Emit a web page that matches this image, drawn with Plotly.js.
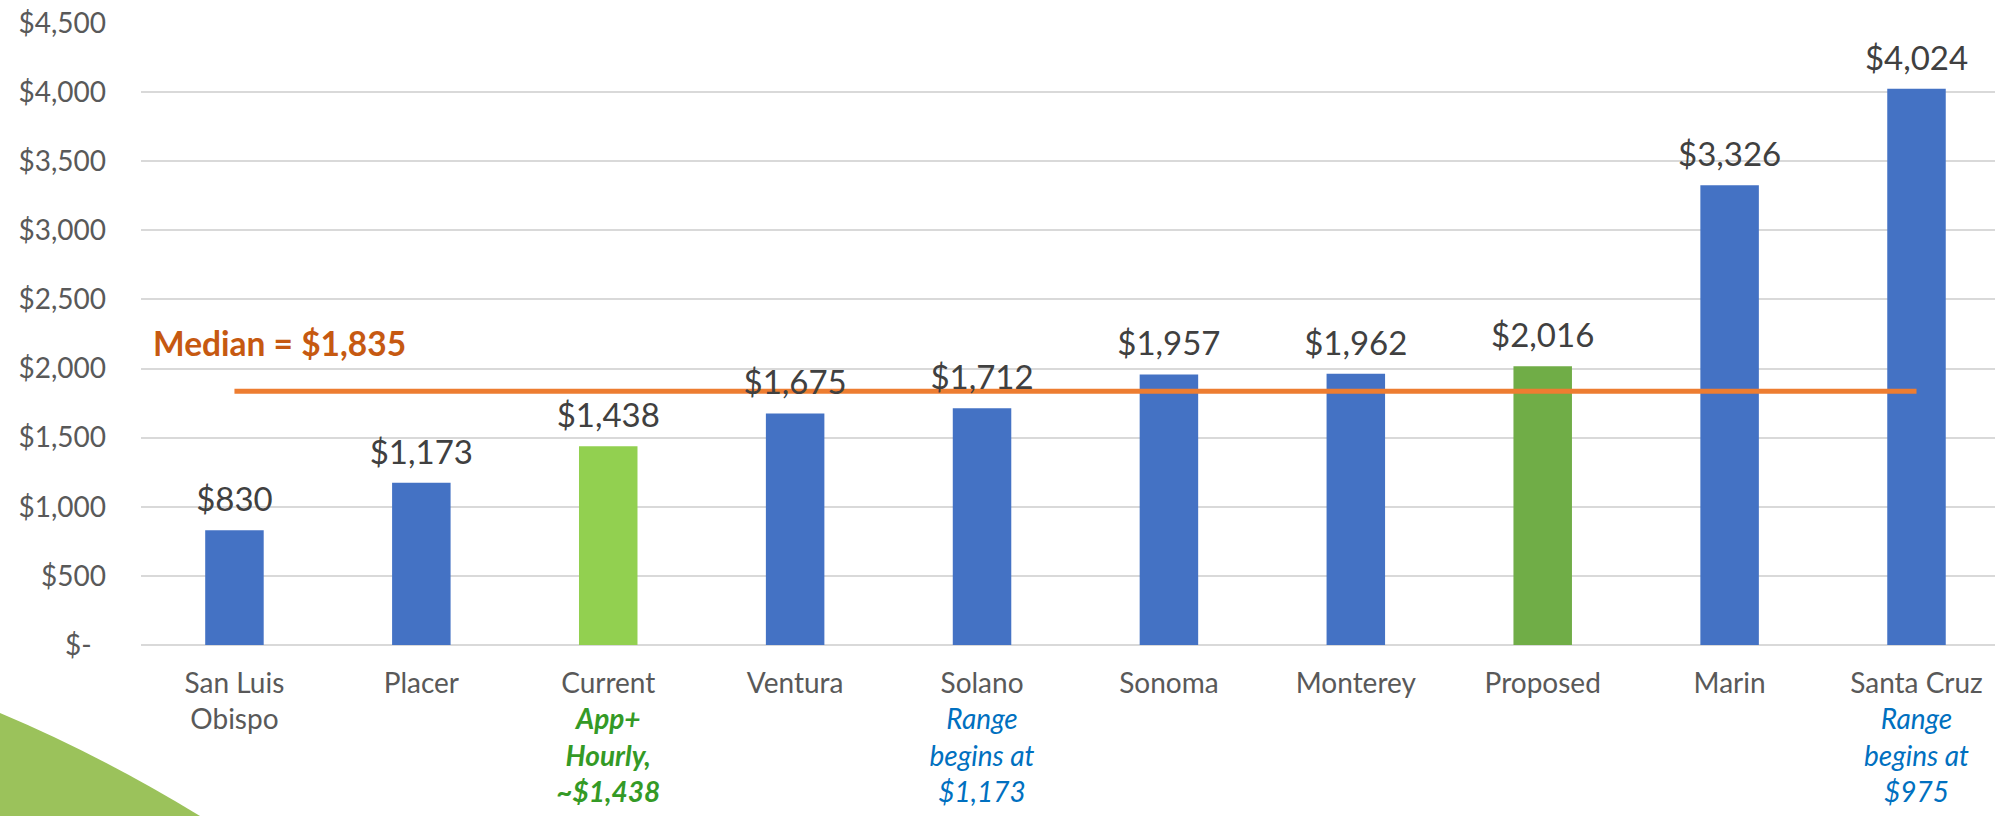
<!DOCTYPE html>
<html>
<head>
<meta charset="utf-8">
<script src="https://cdn.plot.ly/plotly-3.0.1.min.js"></script>
<style>
  html, body { margin: 0; padding: 0; background: #ffffff; }
  #chart { width: 1995px; height: 816px; }
</style>
</head>
<body>
<div id="chart"></div>
<script>
// ---- data ----
const categories = ["San Luis Obispo", "Placer", "Current", "Ventura", "Solano", "Sonoma", "Monterey", "Proposed", "Marin", "Santa Cruz"];
const categoryLines = ["San Luis<br>Obispo", "Placer", "Current", "Ventura", "Solano", "Sonoma", "Monterey", "Proposed", "Marin", "Santa Cruz"];
const notes = ["", "", "App+<br>Hourly,<br>~$1,438", "", "Range<br>begins at<br>$1,173", "", "", "", "", "Range<br>begins at<br>$975"];
const noteKinds = ["", "", "current", "", "range", "", "", "", "", "range"];
const values = [830, 1173, 1438, 1675, 1712, 1957, 1962, 2016, 3326, 4024];
const barKinds = ["county", "county", "current", "county", "county", "county", "county", "proposed", "county", "county"];
const valueLabels = ["$830", "$1,173", "$1,438", "$1,675", "$1,712", "$1,957", "$1,962", "$2,016", "$3,326", "$4,024"];
const median = 1835;
const medianLabel = "Median = $1,835";
const yTickVals = [0, 500, 1000, 1500, 2000, 2500, 3000, 3500, 4000, 4500];
const yTickText = ["$-\u00A0\u00A0", "$500", "$1,000", "$1,500", "$2,000", "$2,500", "$3,000", "$3,500", "$4,000", "$4,500"];

// ---- styles ----
const kindColor = { county: "#4472C4", current: "#92D050", proposed: "#70AD47" };
const noteStyle = {
  current: s => '<span style="color:#349A26"><b><i>' + s + '</i></b></span>',
  range: s => '<span style="color:#0070C0"><i>' + s + '</i></span>'
};
const FONT = "Lato, 'Open Sans', sans-serif";

const xTickText = categoryLines.map((c, i) => notes[i] ? c + "<br>" + noteStyle[noteKinds[i]](notes[i]) : c);

const W = 1995, H = 816;
const mL = 141, mR = 0, mT = 23, mB = 171;

const traces = [
  {
    type: "bar",
    x: categories,
    y: values,
    width: 0.313,
    marker: { color: barKinds.map(k => kindColor[k]) },
    hoverinfo: "skip",
    showlegend: false
  },
  {
    type: "scatter",
    mode: "lines",
    x: [categories[0], categories[categories.length - 1]],
    y: [median, median],
    line: { color: "#ED7D31", width: 5 },
    hoverinfo: "skip",
    showlegend: false
  },
  {
    type: "scatter",
    mode: "markers+text",
    x: categories,
    y: values,
    text: valueLabels,
    textposition: "top center",
    textfont: { family: FONT, size: 33, color: "#404040" },
    marker: { size: 16, opacity: 0 },
    hoverinfo: "skip",
    cliponaxis: false,
    showlegend: false
  }
];

const layout = {
  width: W, height: H,
  margin: { l: mL, r: mR, t: mT, b: mB, pad: 0 },
  paper_bgcolor: "#ffffff",
  plot_bgcolor: "#ffffff",
  font: { family: FONT, color: "#595959" },
  xaxis: {
    type: "category",
    range: [-0.5, 9.42],
    tickvals: categories,
    ticktext: xTickText,
    tickfont: { family: FONT, size: 28, color: "#595959" },
    showgrid: false,
    zeroline: false,
    showline: false,
    ticks: "",
    ticklabelstandoff: 19,
    fixedrange: true
  },
  yaxis: {
    range: [0, 4500],
    tickvals: yTickVals,
    ticktext: yTickText,
    tickfont: { family: FONT, size: 28, color: "#595959" },
    showgrid: true,
    gridcolor: "#D9D9D9",
    gridwidth: 2,
    zeroline: true,
    zerolinecolor: "#D9D9D9",
    zerolinewidth: 2,
    showline: false,
    ticks: "",
    ticklabelstandoff: 34,
    fixedrange: true
  },
  annotations: [
    {
      xref: "paper", yref: "y",
      x: (151 - mL) / (W - mL - mR), y: 2185,
      xanchor: "left", yanchor: "middle",
      text: "<b>" + medianLabel + "</b>",
      showarrow: false,
      font: { family: FONT, size: 33.5, color: "#C65911" }
    }
  ],
  shapes: [
    {
      type: "path",
      xref: "paper", yref: "paper",
      path: (function () {
        const px = x => (x - mL) / (W - mL - mR);
        const py = y => (H - mB - y) / (H - mT - mB);
        return "M " + px(0) + "," + py(713) +
               " Q " + px(100) + "," + py(755) + " " + px(200) + "," + py(816) +
               " L " + px(0) + "," + py(816) + " Z";
      })(),
      fillcolor: "#9BC25B",
      line: { width: 0 },
      layer: "below"
    }
  ]
};

Plotly.newPlot("chart", traces, layout, { displayModeBar: false, staticPlot: true });
</script>
</body>
</html>
